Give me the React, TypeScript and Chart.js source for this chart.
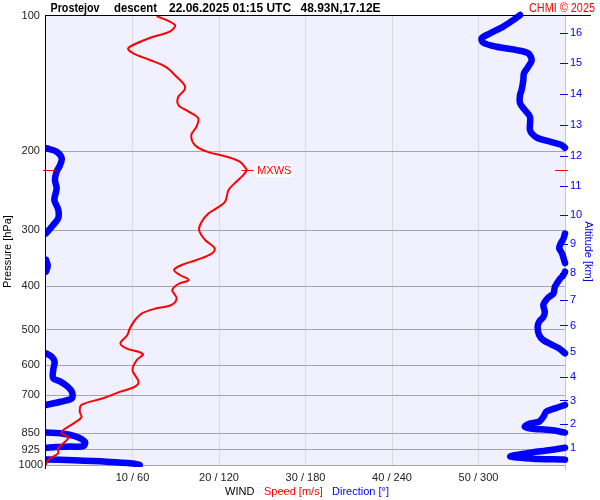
import React, { useEffect, useRef } from 'react';
import { Chart, registerables } from 'chart.js';

Chart.register(...registerables);

const FONT = "'Liberation Sans', Arial, Helvetica, sans-serif";

// Pressure axis ticks (hPa)
const pressureTicks = [100, 200, 300, 400, 500, 600, 700, 850, 925, 1000];

// Wind axis ticks: speed (m/s) and matching direction (deg)
const speedTicks = [0, 10, 20, 30, 40, 50, 60];

// Altitude axis (km) and the pressure level where each altitude sits
const altitudeKm = [1, 2, 3, 4, 5, 6, 7, 8, 9, 10, 11, 12, 13, 14, 15, 16];
const altitudePressure = [914.4, 811.3, 718.3, 637.9, 559.4, 489.0, 428.0, 373.0, 322.5, 277.9, 239.4, 204.7, 174.6, 149.2, 127.4, 108.9];

// Wind speed profile (m/s) vs pressure (hPa)
const speedPressure = [100, 104.7, 108.4, 111.2, 114.1, 118.0, 121.1, 125.3, 129.7, 136.5, 142.5, 146.2, 151.2, 157.8, 163.3, 169.0, 176.4, 184.1, 193.8, 200.5, 205.8, 211.1, 218.4, 220.7, 226.1, 235.9, 244.1, 259.3, 268.2, 275.1, 287.2, 299.8, 315.4, 329.1, 337.7, 349.5, 358.5, 367.9, 377.4, 387.2, 395.3, 407.6, 425.3, 440.2, 447.7, 459.3, 475.4, 496.1, 513.4, 535.8, 549.7, 566.0, 583.7, 614.4, 652.3, 669.2, 686.6, 710.3, 735.1, 760.8, 783.0, 807.5, 835.7, 850.0, 867.8, 894.9, 918.1, 941.9, 966.2, 983.2, 1000];
const speedValues = [12.8, 14.9, 14.3, 12.4, 10.9, 9.5, 10.1, 12.0, 13.8, 15.1, 16.0, 16.0, 15.3, 15.3, 16.5, 17.6, 17.4, 16.8, 17.2, 18.6, 20.9, 22.4, 23.1, 23.2, 22.8, 21.8, 21.1, 20.7, 19.7, 18.8, 18.0, 17.7, 18.4, 19.5, 19.2, 17.4, 15.7, 14.8, 15.5, 16.5, 15.3, 14.6, 15.1, 14.5, 12.8, 11.1, 10.3, 9.7, 9.4, 8.6, 9.3, 11.2, 10.5, 10.0, 10.7, 10.3, 8.6, 6.6, 4.1, 3.9, 4.1, 3.2, 2.0, 1.8, 2.6, 2.0, 1.4, 1.4, 0.5, 0.1, 0];

// Wind direction profile (deg) vs pressure (hPa); null = wrap-around break (0/360)
const dirPressure = [
  1000, 992, 983, 976, 972, null,
  973, 972, 970, 958, 942, 926, 915, null,
  915, 912, 910, 908, 888, 865, 850, 847, null,
  847, 836, 829, 822, 808, 801, 781, 761, 748, 735, null,
  735, 723, 710, 687, 669, 652, 641, 614, 589, 574, 564, null,
  564, 550, 540, 527, 513, 492, 480, 468, 456, 440, 425, 415, 401, 387, 377, 371, null,
  371, 360, 349, null,
  355, 338, 329, 321, 313, 305, null,
  305, 292, 282, 270, 257, 242, 232, 222, 215, 207.5, 200.5, 197, null,
  196.5, 193.8, 190.5, 187.3, 184.1, 179.5, 167.6, 162, 156.5, 150, 146.2, 138.8, 134.2, 129.7, 125.3, 121.1, 119.1, 117.1, 114.7, 112.1, 109.3, 105.6, 102.1, 99.5,
];
const dirValues = [
  65, 60, 42, 19, 0, null,
  360, 357, 342, 322, 333, 350, 360, null,
  0, 7, 17, 26, 27, 21, 10, 0, null,
  360, 350, 336, 332, 336, 342, 345, 347, 353, 360, null,
  0, 10, 18, 18, 15, 10, 5, 5, 6, 4, 0, null,
  360, 356, 351, 345, 342, 341, 342, 345, 346, 345, 348, 352, 353, 356, 359, 360, null,
  0, 1.2, 0, null,
  360, 358, 356, 357, 359, 360, null,
  0, 5, 8.5, 8.5, 5.8, 7.4, 6.2, 7.4, 9.7, 10.9, 7.4, 0, null,
  360, 357.7, 349.6, 341.5, 338, 335.7, 335.7, 332.2, 328.8, 328.8, 329.9, 331.1, 331.5, 334.5, 336.9, 334.5, 326.5, 312.6, 303.3, 302.2, 308, 317.2, 324.1, 328.8,
];

const speedData = speedPressure.map((p, i) => ({ x: speedValues[i], y: p }));
const dirData = dirPressure.map((p, i) =>
  dirValues[i] === null || p === null ? { x: 0, y: null } : { x: (dirValues[i] as number) / 6, y: p }
);

let maxIdx = 0;
speedValues.forEach((v, i) => { if (v > speedValues[maxIdx]) maxIdx = i; });

const overlay = {
  id: 'overlay',
  beforeDraw(chart: any) {
    const { ctx, chartArea: a } = chart;
    ctx.save();
    ctx.fillStyle = '#ffffff';
    ctx.fillRect(0, 0, chart.width, chart.height);
    ctx.fillStyle = '#f0f0ff';
    ctx.fillRect(a.left, a.top, a.right - a.left, a.bottom - a.top);
    ctx.restore();
  },
  beforeDatasetsDraw(chart: any) {
    const { ctx, chartArea: a } = chart;
    ctx.save();
    ctx.strokeStyle = '#000';
    ctx.lineWidth = 1;
    ctx.beginPath();
    ctx.moveTo(a.left - 1, a.top - 0.5);
    ctx.lineTo(591, a.top - 0.5);
    ctx.stroke();
    ctx.strokeStyle = '#c8c8c8';
    ctx.beginPath();
    ctx.moveTo(a.right + 0.5, a.top);
    ctx.lineTo(a.right + 0.5, a.bottom + 5);
    ctx.stroke();
    ctx.restore();
  },
  afterDatasetsDraw(chart: any) {
    const { ctx, chartArea: a, scales } = chart;
    ctx.save();
    // left axis
    ctx.strokeStyle = '#000';
    ctx.lineWidth = 1;
    ctx.beginPath();
    ctx.moveTo(a.left - 0.5, a.top - 1);
    ctx.lineTo(a.left - 0.5, a.bottom + 4);
    ctx.stroke();
    // altitude tick marks
    ctx.strokeStyle = '#0000ff';
    altitudePressure.forEach((p) => {
      const y = Math.round(scales.y2.getPixelForValue(p)) + 0.5;
      ctx.beginPath();
      ctx.moveTo(a.right - 5, y);
      ctx.lineTo(a.right + 3, y);
      ctx.stroke();
    });
    // MXWS markers
    const my = Math.round(scales.y.getPixelForValue(speedPressure[maxIdx])) + 0.5;
    const mx = scales.x.getPixelForValue(speedValues[maxIdx]);
    ctx.strokeStyle = '#ff0000';
    ctx.beginPath();
    ctx.moveTo(a.left - 3, my); ctx.lineTo(a.left + 10, my);
    ctx.moveTo(a.right - 10, my); ctx.lineTo(a.right + 3, my);
    ctx.moveTo(mx - 5, my); ctx.lineTo(mx + 7, my);
    ctx.stroke();
    ctx.font = `11px ${FONT}`;
    const label = 'MXWS';
    const w = ctx.measureText(label).width;
    ctx.fillStyle = '#ffffff';
    ctx.fillRect(mx + 9, my - 6.5, w + 3, 13);
    ctx.fillStyle = '#ff0000';
    ctx.textBaseline = 'middle';
    ctx.textAlign = 'left';
    ctx.fillText(label, mx + 10.5, my);
    ctx.restore();
  },
  afterDraw(chart: any) {
    const { ctx } = chart;
    ctx.save();
    ctx.textBaseline = 'alphabetic';
    ctx.textAlign = 'left';
    ctx.fillStyle = '#000';
    ctx.font = `bold 12px ${FONT}`;
    ctx.fillText('Prostejov', 50.5, 12, 49);
    ctx.fillText('descent', 114, 12, 43);
    ctx.fillText('22.06.2025 01:15 UTC', 169, 12, 124);
    ctx.fillText('48.93N,17.12E', 300.5, 12, 81);
    ctx.font = `12px ${FONT}`;
    ctx.fillStyle = '#ff0000';
    ctx.textAlign = 'right';
    ctx.fillText('CHMI © 2025', 595, 12, 66);
    ctx.textAlign = 'left';
    ctx.font = `11px ${FONT}`;
    ctx.fillStyle = '#000';
    ctx.fillText('WIND', 225, 495);
    ctx.fillStyle = '#ff0000';
    ctx.fillText('Speed [m/s]', 264, 495);
    ctx.fillStyle = '#0000ff';
    ctx.fillText('Direction [°]', 332, 495);
    // axis titles
    ctx.textAlign = 'center';
    ctx.textBaseline = 'middle';
    ctx.save();
    ctx.translate(8, 251.5);
    ctx.rotate(-Math.PI / 2);
    ctx.fillStyle = '#000';
    ctx.fillText('Pressure [hPa]', 0, 0);
    ctx.restore();
    ctx.save();
    ctx.translate(588, 251.5);
    ctx.rotate(Math.PI / 2);
    ctx.fillStyle = '#0000ff';
    ctx.fillText('Altitude [km]', 0, 0);
    ctx.restore();
    ctx.restore();
  },
};

export default function App() {
  const ref = useRef<HTMLCanvasElement>(null);
  useEffect(() => {
    document.body.style.margin = '0';
    Chart.defaults.font.family = FONT;
    Chart.defaults.font.size = 11;
    const chart = new Chart(ref.current as HTMLCanvasElement, {
      type: 'scatter',
      data: {
        datasets: [
          {
            label: 'Speed',
            data: speedData as any,
            showLine: true,
            borderColor: '#ff0000',
            borderWidth: 2,
            pointRadius: 0,
            tension: 0.35,
            yAxisID: 'y',
            xAxisID: 'x',
          },
          {
            label: 'Direction',
            data: dirData as any,
            showLine: true,
            borderColor: '#0000ff',
            borderWidth: 6.5,
            pointRadius: 0,
            tension: 0.3,
            borderCapStyle: 'round',
            borderJoinStyle: 'round',
            spanGaps: false,
            clip: { left: 1, top: 6, right: 5, bottom: 2 } as any,
            yAxisID: 'y',
            xAxisID: 'x',
          },
        ],
      },
      options: {
        responsive: false,
        maintainAspectRatio: false,
        animation: false,
        devicePixelRatio: 1,
        events: [],
        layout: { padding: { top: 16, left: 0, right: 0, bottom: 0 } },
        plugins: { legend: { display: false }, tooltip: { enabled: false } },
        scales: {
          x: {
            type: 'linear',
            min: 0,
            max: 60,
            afterBuildTicks: (s: any) => { s.ticks = speedTicks.map((v) => ({ value: v })); },
            afterFit: (s: any) => { s.height = 35; },
            border: { display: false },
            grid: {
              drawTicks: false,
              color: (c: any) => {
                const v = c.tick ? c.tick.value : -1;
                return v === 0 || v === 60 ? 'rgba(0,0,0,0)' : '#dadada';
              },
            },
            ticks: {
              padding: 6,
              color: '#222',
              autoSkip: false,
              maxRotation: 0,
              font: { size: 11, family: FONT },
              callback: (v: any) => (v > 0 && v < 60 ? `${v} / ${v * 6}` : ''),
            },
          },
          y: {
            type: 'logarithmic',
            position: 'left',
            reverse: true,
            min: 100,
            max: 1000,
            afterBuildTicks: (s: any) => { s.ticks = pressureTicks.map((v) => ({ value: v })); },
            afterFit: (s: any) => { s.width = 46; },
            border: { display: false },
            grid: {
              drawTicks: false,
              color: (c: any) => (c.tick && c.tick.value === 100 ? 'rgba(0,0,0,0)' : '#a6a6a6'),
            },
            ticks: {
              padding: 3,
              crossAlign: 'center',
              color: '#222',
              autoSkip: false,
              font: { size: 11, family: FONT },
              callback: (v: any) => String(v),
            },
          },
          y2: {
            type: 'logarithmic',
            position: 'right',
            reverse: true,
            min: 100,
            max: 1000,
            afterBuildTicks: (s: any) => { s.ticks = altitudePressure.map((v) => ({ value: v })); },
            afterFit: (s: any) => { s.width = 35; },
            border: { display: false },
            grid: { drawOnChartArea: false, drawTicks: false },
            ticks: {
              padding: 5,
              color: '#0000ff',
              autoSkip: false,
              font: { size: 11, family: FONT },
              callback: (_v: any, i: number) => String(altitudeKm[i]),
            },
          },
        },
      },
      plugins: [overlay],
    } as any);
    return () => chart.destroy();
  }, []);
  return <canvas ref={ref} width={600} height={500} style={{ display: 'block', width: 600, height: 500 }} />;
}
